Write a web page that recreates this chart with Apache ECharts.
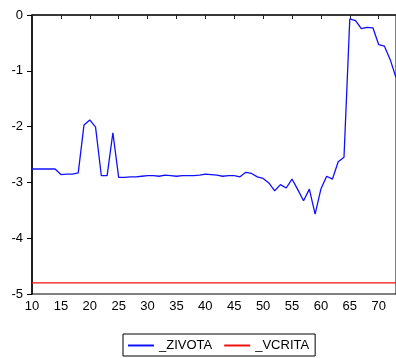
<!DOCTYPE html>
<html><head><meta charset="utf-8">
<script src="https://cdn.jsdelivr.net/npm/echarts@6/dist/echarts.min.js"></script>
<style>html,body{margin:0;padding:0;background:#fff}#c{width:396px;height:358px}</style>
</head><body><div id="c"></div>
<script>
var xValues = [10,11,12,13,14,15,16,17,18,19,20,21,22,23,24,25,26,27,28,29,30,31,32,33,34,35,36,37,38,39,40,41,42,43,44,45,46,47,48,49,50,51,52,53,54,55,56,57,58,59,60,61,62,63,64,65,66,67,68,69,70,71,72,73];
var zivota = [-2.76,-2.76,-2.76,-2.76,-2.76,-2.86,-2.85,-2.85,-2.83,-1.97,-1.88,-2.01,-2.88,-2.88,-2.11,-2.91,-2.91,-2.90,-2.90,-2.89,-2.88,-2.88,-2.89,-2.87,-2.88,-2.89,-2.88,-2.88,-2.88,-2.87,-2.85,-2.86,-2.87,-2.89,-2.88,-2.88,-2.90,-2.82,-2.84,-2.90,-2.93,-3.01,-3.15,-3.04,-3.10,-2.94,-3.13,-3.33,-3.12,-3.57,-3.12,-2.89,-2.94,-2.63,-2.55,-0.07,-0.10,-0.245,-0.22,-0.23,-0.53,-0.56,-0.80,-1.12];
var vcrita = [-4.8,-4.8,-4.8,-4.8,-4.8,-4.8,-4.8,-4.8,-4.8,-4.8,-4.8,-4.8,-4.8,-4.8,-4.8,-4.8,-4.8,-4.8,-4.8,-4.8,-4.8,-4.8,-4.8,-4.8,-4.8,-4.8,-4.8,-4.8,-4.8,-4.8,-4.8,-4.8,-4.8,-4.8,-4.8,-4.8,-4.8,-4.8,-4.8,-4.8,-4.8,-4.8,-4.8,-4.8,-4.8,-4.8,-4.8,-4.8,-4.8,-4.8,-4.8,-4.8,-4.8,-4.8,-4.8,-4.8,-4.8,-4.8,-4.8,-4.8,-4.8,-4.8,-4.8,-4.8];
var seriesNames = ['_ZIVOTA','_VCRITA'];

function pairs(xs, ys){ return xs.map(function(x,i){ return [x, ys[i]]; }); }

var chart = echarts.init(document.getElementById('c'), null, {renderer:'canvas'});
chart.setOption({
  animation: false,
  textStyle: {fontFamily: 'Liberation Sans, Arial, sans-serif'},
  grid: {left: 32, top: 15, right: -1, bottom: 64, show: true, borderColor: '#000', borderWidth: 1, backgroundColor: 'transparent'},
  legend: {
    data: seriesNames,
    left: 123, top: 334,
    padding: [5,6,4,5],
    itemGap: 12, itemWidth: 26, itemHeight: 2,
    icon: 'rect',
    borderColor: '#000', borderWidth: 1,
    textStyle: {fontSize: 13, color: '#000', fontFamily: 'Liberation Sans, Arial, sans-serif'}
  },
  xAxis: {
    type: 'value', min: 10, max: 73, interval: 5,
    axisLine: {show: true, lineStyle: {color: '#222', width: 1.5}},
    axisTick: {show: true, length: 4, lineStyle: {color: '#222'}},
    axisLabel: {fontSize: 13, color: '#000', margin: 6, showMaxLabel: false},
    splitLine: {show: false}
  },
  yAxis: {
    type: 'value', min: -5, max: 0, interval: 1,
    axisLine: {show: true, lineStyle: {color: '#000', width: 1.5}},
    axisTick: {show: true, length: 5, lineStyle: {color: '#000'}},
    axisLabel: {fontSize: 13, color: '#000', margin: 9},
    splitLine: {show: false}
  },
  series: [
    {name: seriesNames[0], type: 'line', data: pairs(xValues, zivota), showSymbol: false, symbol: 'none',
     lineStyle: {color: '#1010ff', width: 1.3}, itemStyle: {color: '#1010ff'}},
    {name: seriesNames[1], type: 'line', data: pairs(xValues, vcrita), showSymbol: false, symbol: 'none',
     lineStyle: {color: '#ee1111', width: 1.3}, itemStyle: {color: '#ee1111'}}
  ]
});
</script></body></html>
